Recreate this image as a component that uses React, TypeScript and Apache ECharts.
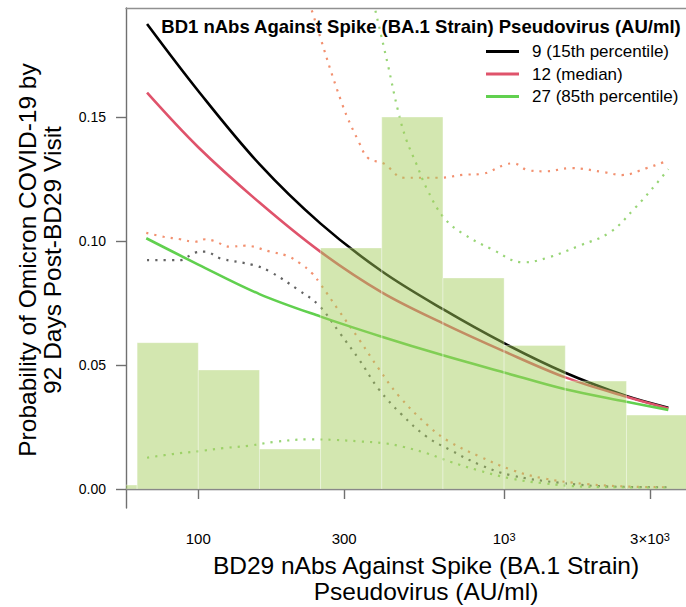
import React, { useEffect, useRef } from "react";
import * as echarts from "echarts";

// Histogram of BD29 nAbs (bin edges in AU/ml, bar height on probability scale)
const binEdges = [39.81, 63.1, 100, 158.49, 251.19, 398.11, 630.96, 1000, 1584.89, 2511.89, 3981.07];
const binHeights = [0.0016, 0.059, 0.048, 0.0161, 0.0972, 0.15, 0.0851, 0.0579, 0.0435, 0.0298];

// Solid curves [AU/ml, probability]
const curve15th = [
  [68.0, 0.1875], [100, 0.1605], [158.5, 0.131], [251.2, 0.107], [398.1, 0.0878],
  [631, 0.0725], [1000, 0.0588], [1585, 0.0469], [2512, 0.0375], [3443, 0.0328],
];
const curveMedian = [
  [68.0, 0.1598], [100, 0.1378], [158.5, 0.1155], [251.2, 0.0956], [398.1, 0.0793],
  [631, 0.0668], [1000, 0.0555], [1585, 0.045], [2512, 0.0372], [3443, 0.0325],
];
const curve85th = [
  [67.6, 0.1011], [100, 0.0905], [158.5, 0.0786], [251.2, 0.0695], [398.1, 0.0614],
  [631, 0.0539], [1000, 0.047], [1585, 0.0402], [2512, 0.0352], [3443, 0.0319],
];

// Dotted confidence bounds
const lower15th = [
  [68, 0.0923], [87.3, 0.0923], [97.5, 0.0953], [105.4, 0.0957], [118, 0.093], [151.4, 0.0903],
  [171.8, 0.0876], [212.8, 0.0802], [247.2, 0.0742], [289.7, 0.063], [336.5, 0.052],
  [389, 0.0403], [462, 0.0301], [558, 0.0211], [667, 0.0157], [836, 0.0097], [1047, 0.0056],
  [1524, 0.0025], [2333, 0.0009], [3443, 0.0007],
];
const lowerMedian = [
  [67.6, 0.1033], [77.1, 0.1017], [87.3, 0.1007], [97.5, 0.0997], [105.4, 0.1007], [112.2, 0.1001],
  [127.2, 0.0977], [142.4, 0.0981], [171.8, 0.0957], [195, 0.094], [215.3, 0.091], [235.5, 0.087],
  [250.6, 0.0827], [289.7, 0.0715], [336.5, 0.0601], [388.1, 0.0487], [452.9, 0.0375],
  [566, 0.0254], [662, 0.0191], [836, 0.013], [1059, 0.0077], [1343, 0.0043], [1862, 0.002],
  [2649, 0.0009], [3404, 0.0007],
];
const upperMedian = [
  [213.8, 0.209], [237.1, 0.1915], [294.9, 0.1555], [336.5, 0.1394], [360.2, 0.1333],
  [403.4, 0.1313], [471, 0.1255], [609.5, 0.1255], [739.6, 0.1267], [841.4, 0.127],
  [1007, 0.1308], [1072, 0.1313], [1199, 0.1285], [1365, 0.1281], [1652, 0.1294],
  [2133, 0.1277], [2427, 0.1266], [2924, 0.1294], [3311, 0.1317], [3443, 0.1325],
];
const upper85th = [
  [358.9, 0.206], [381.8, 0.1915], [416.9, 0.171], [449.4, 0.1528], [478.3, 0.141],
  [515.8, 0.1313], [555.9, 0.1217], [633.5, 0.1096], [730.8, 0.1031], [911.5, 0.0967],
  [1156, 0.0914], [1390, 0.0933], [1762, 0.0981], [2218, 0.1035], [2679, 0.1133],
  [3177, 0.1237], [3443, 0.129],
];
const lower85th = [
  [68, 0.0126], [82.6, 0.0141], [99.8, 0.0152], [121, 0.0165], [147.2, 0.0175], [177.4, 0.019],
  [230, 0.02], [278.6, 0.0198], [336.5, 0.0192], [409.3, 0.0184], [464.5, 0.0171],
  [558.5, 0.0144], [666.8, 0.011], [814.7, 0.0077], [1046, 0.0043], [1343, 0.0023],
  [1862, 0.0009], [3404, 0.0005],
];

const seriesNames = ["9 (15th percentile)", "12 (median)", "27 (85th percentile)"];
const xTicks = [100, 300, 1000, 3000];
const xTickLabels = ["100", "300", "10{s|3}", "3×10{s|3}"];
const yTicks = [0, 0.05, 0.1, 0.15];

const FONT = "'Liberation Sans', Arial, Helvetica, sans-serif";

export default function App() {
  const ref = useRef<HTMLDivElement>(null);
  useEffect(() => {
    if (!ref.current) return;
    const chart = echarts.init(ref.current, null, { renderer: "svg" });
    const histData = binHeights.map((h, i) => [binEdges[i], binEdges[i + 1], h]);
    const dotted = (name: string, data: number[][], color: string) => ({
      name,
      type: "line",
      data,
      smooth: 0.4,
      showSymbol: false,
      symbol: "none",
      z: 2,
      lineStyle: { color, width: 2.2, type: [2.2, 6.1], cap: "butt" },
      silent: true,
    });
    const solid = (name: string, data: number[][], color: string) => ({
      name,
      type: "line",
      data,
      smooth: 0.35,
      showSymbol: false,
      symbol: "none",
      z: 3,
      itemStyle: { color },
      lineStyle: { color, width: 2.6 },
    });
    chart.setOption({
      animation: false,
      textStyle: { fontFamily: FONT },
      grid: { left: 126, right: 0, top: 8, bottom: 99, containLabel: false },
      xAxis: [
        {
          type: "log",
          logBase: 10,
          min: 58.03,
          max: 3933,
          axisLine: { show: true, lineStyle: { color: "#707070", width: 1.4 } },
          axisTick: { show: true, length: 10, customValues: xTicks, lineStyle: { color: "#707070", width: 1.4 } },
          axisLabel: {
            customValues: xTicks,
            margin: 23,
            fontSize: 15,
            color: "#000",
            fontFamily: FONT,
            formatter: (v: number) => {
              const i = xTicks.findIndex((t) => Math.abs(t - v) / t < 1e-6);
              return i >= 0 ? xTickLabels[i] : String(v);
            },
            rich: {
              s: { fontSize: 11, lineHeight: 11, verticalAlign: "top", color: "#000", fontFamily: FONT, padding: [0, 0, 6, 0] },
            },
          },
          splitLine: { show: false },
          minorTick: { show: false },
        },
        {
          type: "value",
          position: "top",
          min: 0,
          max: 1,
          axisLine: { show: true, onZero: false, lineStyle: { color: "#909090", width: 1.4 } },
          axisTick: { show: false },
          axisLabel: { show: false },
          splitLine: { show: false },
        },
      ],
      yAxis: {
        type: "value",
        min: -0.00766,
        max: 0.19395,
        axisLine: { show: true, onZero: false, lineStyle: { color: "#707070", width: 1.4 } },
        axisTick: { show: true, length: 10, customValues: yTicks, lineStyle: { color: "#707070", width: 1.4 } },
        axisLabel: {
          customValues: yTicks,
          margin: 20,
          fontSize: 14,
          color: "#000",
          fontFamily: FONT,
          formatter: (v: number) => v.toFixed(2),
        },
        splitLine: { show: false },
      },
      legend: {
        data: seriesNames,
        orient: "vertical",
        left: 481,
        top: 37,
        padding: 5,
        itemWidth: 33,
        itemHeight: 3,
        itemGap: 3.5,
        icon: "rect",
        textStyle: { fontSize: 17, lineHeight: 19, color: "#000", fontFamily: FONT, padding: [0, 0, 0, 8] },
        selectedMode: false,
      },
      graphic: [
        {
          type: "text",
          x: 421,
          y: 26,
          style: {
            text: "BD1 nAbs Against Spike (BA.1 Strain) Pseudovirus (AU/ml)",
            font: `bold 18.5px ${FONT}`,
            fill: "#000",
            textAlign: "center",
            textVerticalAlign: "middle",
          },
        },
        {
          type: "text",
          x: 426,
          y: 578,
          style: {
            text: "BD29 nAbs Against Spike (BA.1 Strain)\nPseudovirus (AU/ml)",
            font: `24.5px ${FONT}`,
            lineHeight: 26,
            fill: "#000",
            textAlign: "center",
            textVerticalAlign: "middle",
          },
        },
        {
          type: "text",
          x: 40,
          y: 260,
          rotation: Math.PI / 2,
          style: {
            text: "Probability of Omicron COVID-19 by\n92 Days Post-BD29 Visit",
            font: `24.5px ${FONT}`,
            lineHeight: 25,
            fill: "#000",
            textAlign: "center",
            textVerticalAlign: "middle",
          },
        },
      ],
      series: [
        dotted("lower15", lower15th, "rgba(70,70,70,0.85)"),
        dotted("lowerMed", lowerMedian, "#F2906F"),
        dotted("upperMed", upperMedian, "#F2906F"),
        dotted("upper85", upper85th, "#98D576"),
        dotted("lower85", lower85th, "#98D576"),
        solid(seriesNames[0], curve15th, "#000000"),
        solid(seriesNames[1], curveMedian, "#DF536B"),
        solid(seriesNames[2], curve85th, "#61D04F"),
        {
          name: "hist",
          type: "custom",
          clip: true,
          z: 5,
          silent: true,
          data: histData,
          encode: { x: [0, 1], y: 2 },
          renderItem: (params: any, api: any) => {
            const lo = api.value(0);
            const hi = api.value(1);
            const v = api.value(2);
            const a = api.coord([lo, v]);
            const b = api.coord([hi, 0]);
            return {
              type: "rect",
              shape: { x: a[0], y: a[1], width: b[0] - a[0], height: b[1] - a[1] },
              style: { fill: "rgba(162,205,90,0.48)", stroke: "rgba(255,255,255,0.35)", lineWidth: 1 },
            };
          },
        },
      ],
    });
    return () => chart.dispose();
  }, []);
  return (
    <div
      ref={ref}
      style={{ position: "absolute", left: 0, top: 0, width: 686, height: 607 }}
    />
  );
}
